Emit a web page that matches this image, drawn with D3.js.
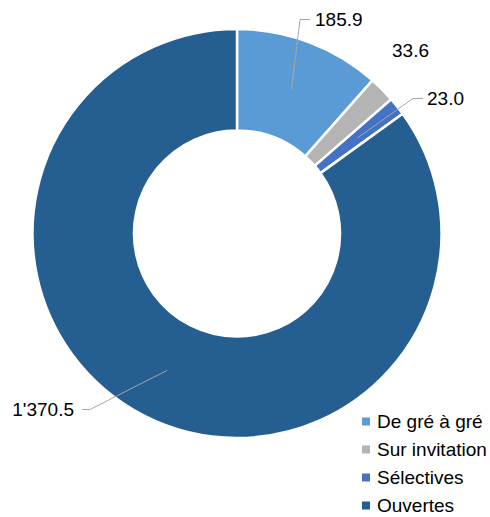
<!DOCTYPE html>
<html><head><meta charset="utf-8">
<script src="https://cdn.jsdelivr.net/npm/d3@7"></script>
<style>body{margin:0;background:#fff}svg{display:block}text{font-family:"Liberation Sans",Arial,sans-serif;fill:#000}</style>
</head><body>
<svg id="c" width="490" height="517"></svg>
<script>
const categories = ["De gré à gré", "Sur invitation", "Sélectives", "Ouvertes"];
const values = [185.9, 33.6, 23.0, 1370.5];
const valueLabels = ["185.9", "33.6", "23.0", "1'370.5"];
const colors = ["#5b9bd5", "#b4b4b4", "#4472c4", "#255e91"];

// layout (label placement offsets relative to chart centre)
const cx = 237, cy = 233.5, rOuter = 204.5, rInner = 103;
const labelLayout = [
  {elbow:[63,-214], end:[73,-214], text:[78,-214], anchor:"start", leader:true},
  {text:[155,-183], anchor:"start", leader:false},
  {elbow:[176,-135], end:[186,-135], text:[190,-135], anchor:"start", leader:true},
  {elbow:[-147,176], end:[-155,176], text:[-163,176], anchor:"end", leader:true}
];

const svg = d3.select("#c");
const g = svg.append("g").attr("transform", `translate(${cx},${cy})`);
const pie = d3.pie().sort(null).value(d => d.v);
const data = pie(values.map((v,i)=>({v, i})));
const arc = d3.arc().innerRadius(rInner).outerRadius(rOuter);
const mid = d3.arc().innerRadius((rInner+rOuter)/2).outerRadius((rInner+rOuter)/2);

g.selectAll("path.s").data(data).join("path").attr("class","s")
  .attr("d", arc).attr("fill", d => colors[d.data.i])
  .attr("stroke", "#fff").attr("stroke-width", 2.5).attr("stroke-linejoin","miter");

data.forEach((d,i) => {
  const L = labelLayout[i];
  if (L.leader) {
    const p = mid.centroid(d);
    g.append("polyline").attr("points", [p, L.elbow, L.end].map(q=>q.join(",")).join(" "))
      .attr("fill","none").attr("stroke","#a6a6a6").attr("stroke-width",1);
  }
  g.append("text").attr("x", L.text[0]).attr("y", L.text[1]).attr("dy","0.35em")
    .attr("text-anchor", L.anchor).style("font-size","19px").text(valueLabels[i]);
});

const leg = svg.append("g").attr("transform","translate(362,421.5)");
const y = d3.scalePoint().domain(categories).range([0, 84]);
categories.forEach((c,i) => {
  leg.append("rect").attr("x",0).attr("y",y(c)-4).attr("width",8).attr("height",8).attr("fill",colors[i]);
  leg.append("text").attr("x",15).attr("y",y(c)).attr("dy","0.35em").style("font-size","19px").text(c);
});
</script>
</body></html>
